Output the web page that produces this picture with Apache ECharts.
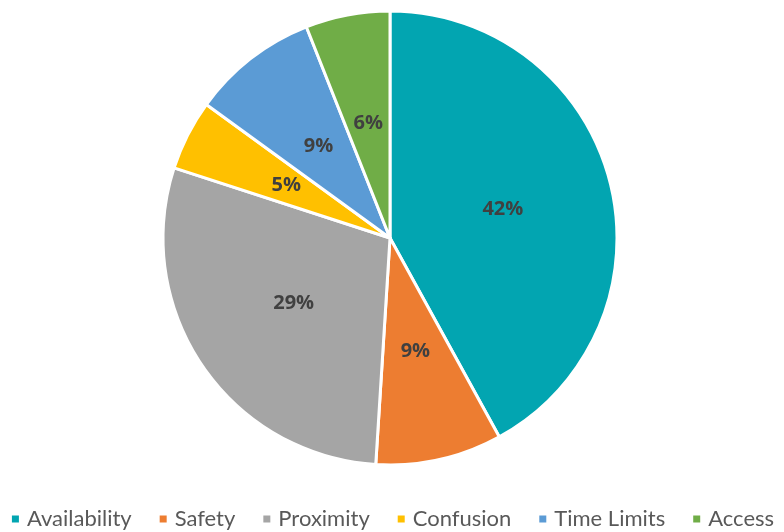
<!DOCTYPE html>
<html><head><meta charset="utf-8">
<script src="https://cdn.jsdelivr.net/npm/echarts@6/dist/echarts.min.js"></script>
<style>html,body{margin:0;padding:0;background:#fff}#c{width:784px;height:532px}</style>
</head><body><div id="c"></div>
<script>
const categories = ['Availability','Safety','Proximity','Confusion','Time Limits','Access'];
const values = [42, 9, 29, 5, 9, 6];
const colors = ['#02A5B1','#ED7D31','#A5A5A5','#FFC000','#5B9BD5','#70AD47'];

const chart = echarts.init(document.getElementById('c'), null, {renderer:'canvas'});
const data = categories.map((n,i)=>({name:n, value:values[i]}));
chart.setOption({
  animation:false,
  color: colors,
  legend: {
    top: 508, left: 'center', padding: 0,
    itemWidth: 9, itemHeight: 9, itemGap: 26,
    icon: 'rect',
    textStyle: {fontFamily:'Lato', fontSize: 22, color:'#595959', padding:[0,0,0,2]},
    data: categories
  },
  series: [{
    type:'pie',
    center:[390,238], radius:[0,227],
    startAngle: 90, clockwise: true,
    data: data,
    itemStyle: {borderColor:'#fff', borderWidth:3},
    label: {position:'inside', formatter: p => p.value + '%', fontFamily:'Open Sans', fontWeight:'bold', fontSize:20, color:'#404040'},
    labelLine:{show:false}
  }]
});
</script></body></html>
